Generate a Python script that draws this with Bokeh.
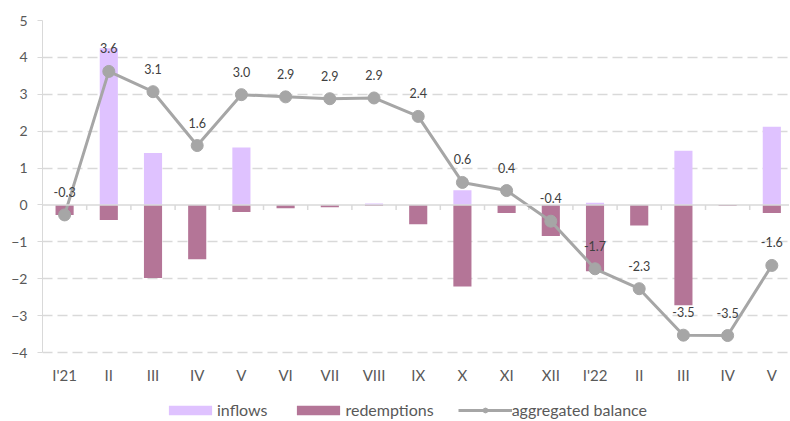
from bokeh.plotting import figure
from bokeh.models import Range1d, FixedTicker, Span, Legend, LegendItem, ColumnDataSource
from bokeh.core.properties import value
from bokeh.embed import file_html
from bokeh.resources import INLINE

categories = ["I'21", "II", "III", "IV", "V", "VI", "VII", "VIII", "IX", "X", "XI", "XII",
              "I'22", "II", "III", "IV", "V"]
inflows = [0.0, 4.25, 1.41, 0.0, 1.56, 0.0, 0.0, 0.04, 0.0, 0.40, 0.0, 0.0, 0.06, 0.0, 1.47, 0.0, 2.12]
redemptions = [-0.27, -0.41, -1.98, -1.47, -0.19, -0.09, -0.06, -0.03, -0.52, -2.21, -0.22, -0.84,
               -1.80, -0.56, -2.72, -0.03, -0.22]
balance = [-0.27, 3.62, 3.07, 1.61, 2.99, 2.93, 2.88, 2.90, 2.40, 0.61, 0.39, -0.44,
           -1.73, -2.27, -3.53, -3.54, -1.64]
y_ticks = [-4, -3, -2, -1, 0, 1, 2, 3, 4, 5]

FONT = "Lato"
TXT = "#595959"
GRID = "#d9d9d9"

idx = list(range(len(categories)))
n = len(idx)
src = ColumnDataSource(dict(
    x=idx, inflows=inflows, redemptions=redemptions, balance=balance,
    lbl=[f"{v:.1f}" for v in balance],
))

# frame runs to the bottom of the canvas; the value axis is bounded to -4..5
p = figure(width=789, height=420, x_range=Range1d(-0.5, 16.4), y_range=Range1d(-5.843, 5),
           output_backend="svg", toolbar_location=None,
           min_border_left=42, min_border_right=0, min_border_top=20, min_border_bottom=0)
p.outline_line_color = None
p.background_fill_color = "white"
p.border_fill_color = "white"
p.xaxis.visible = False

# grid
p.xgrid.grid_line_color = None
p.ygrid.ticker = FixedTicker(ticks=[t for t in y_ticks if t != 0])
p.ygrid.grid_line_color = GRID
p.ygrid.grid_line_width = 1.5
p.ygrid.grid_line_dash = "10 5"

# y axis
p.yaxis.ticker = FixedTicker(ticks=y_ticks)
p.yaxis.bounds = (min(y_ticks), max(y_ticks))
p.yaxis.axis_line_color = GRID
p.yaxis.major_tick_line_color = GRID
p.yaxis.major_tick_out = 5
p.yaxis.major_tick_in = 0
p.yaxis.minor_tick_line_color = None
p.yaxis.major_label_standoff = 10
p.yaxis.major_label_text_font = FONT
p.yaxis.major_label_text_font_size = "14px"
p.yaxis.major_label_text_color = TXT

# category labels under the plot area
p.text(x=idx, y=[min(y_ticks)] * n, text=categories, y_offset=22,
       text_align="center", text_baseline="middle",
       text_font=value(FONT), text_font_size="15px", text_color=TXT)

# zero line + category separators
p.add_layout(Span(location=0, dimension="width", line_color=GRID, line_width=1.5))
bounds = [i + 0.5 for i in idx[:-1]]
p.segment(x0=bounds, y0=[0] * len(bounds), x1=bounds, y1=[-0.14] * len(bounds),
          line_color=GRID, line_width=1.5)

r_in = p.vbar(x="x", top="inflows", bottom=0, width=0.41, source=src,
              fill_color="#dfc2ff", line_color=None)
r_out = p.vbar(x="x", top="redemptions", bottom=0, width=0.41, source=src,
               fill_color="#b47597", line_color=None)
r_line = p.line(x="x", y="balance", source=src, line_color="#a6a6a6", line_width=3)
r_pts = p.scatter(x="x", y="balance", source=src, marker="circle", size=12,
                  fill_color="#a6a6a6", line_color="#a6a6a6")
p.text(x="x", y="balance", text="lbl", source=src, y_offset=-23,
       text_align="center", text_baseline="middle",
       text_font=value(FONT), text_font_size="12.5px", text_color="#404040")

legend = Legend(items=[
    LegendItem(label="inflows", renderers=[r_in]),
    LegendItem(label="redemptions", renderers=[r_out]),
    LegendItem(label="aggregated balance", renderers=[r_line, r_pts]),
], location=(121, 1), orientation="horizontal",
    glyph_width=54, glyph_height=12, label_height=18, label_standoff=0, spacing=24,
    padding=0, margin=0, border_line_color=None, background_fill_alpha=0,
    label_text_font=FONT, label_text_font_size="16px", label_text_color=TXT)
p.add_layout(legend, "center")

open("out.html", "w").write(file_html(p, INLINE))
